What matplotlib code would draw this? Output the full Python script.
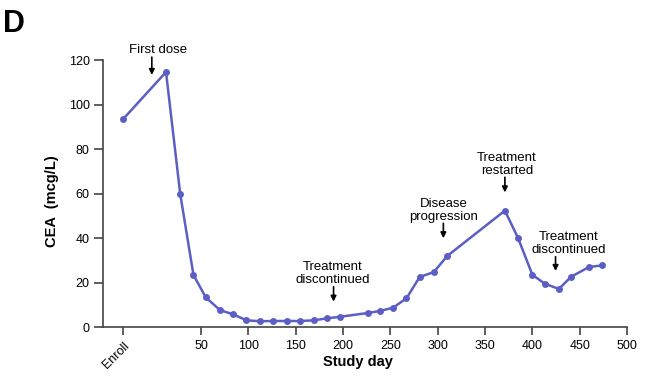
import matplotlib
matplotlib.use("Agg")
import matplotlib.pyplot as plt

plt.rcParams['font.family'] = ['Liberation Sans', 'DejaVu Sans']

# CEA values (Enroll drawn at day -32)
days = [-32, 13, 28, 42, 55, 70, 84, 98, 112, 126, 141, 155, 169, 183, 197,
        226, 239, 253, 267, 281, 296, 310, 371, 385, 400, 413, 428, 441, 460, 474]
cea = [93.6, 114.6, 59.8, 23.4, 13.3, 7.6, 5.7, 3.0, 2.6, 2.7, 2.7, 2.7, 3.0, 3.9, 4.6,
       6.3, 7.2, 8.7, 12.9, 22.5, 24.7, 31.9, 52.3, 39.9, 23.5, 19.5, 17.1, 22.6, 27.0, 27.7]

xticks = [-32, 50, 100, 150, 200, 250, 300, 350, 400, 450, 500]
xlabels = ['Enroll', '50', '100', '150', '200', '250', '300', '350', '400', '450', '500']
yticks = [0, 20, 40, 60, 80, 100, 120]

# annotations: text, text x, arrow x, arrow start y, arrow tip y
notes = [
    ('First dose', 4.5, -2, 121.3, 113.3),
    ('Treatment\ndiscontinued', 189, 190, 18.1, 11.4),
    ('Disease\nprogression', 306, 306, 46.6, 39.9),
    ('Treatment\nrestarted', 373, 371, 67.3, 60.5),
    ('Treatment\ndiscontinued', 438.7, 424.5, 31.6, 25.2),
]

fig = plt.figure(figsize=(6.46, 3.77), dpi=100)
ax = fig.add_axes([0.1594, 0.1326, 0.8112, 0.7082])

ax.plot(days, cea, color='#5b5ec4', lw=1.8, marker='o', markersize=5,
        markeredgewidth=0, clip_on=False, zorder=3)

ax.set_xlim(-53.6, 500)
ax.set_ylim(0, 120)
ax.set_xticks(xticks)
ax.set_xticklabels(xlabels, fontsize=9)
ax.set_yticks(yticks)
ax.set_yticklabels([str(v) for v in yticks], fontsize=9)

lbl = ax.get_xticklabels()[0]
lbl.set_rotation(45)
lbl.set_ha('right')
lbl.set_va('top')
lbl.set_rotation_mode('anchor')

for side in ['top', 'right']:
    ax.spines[side].set_visible(False)
for side in ['left', 'bottom']:
    ax.spines[side].set_color('#444444')
    ax.spines[side].set_linewidth(1.2)
ax.tick_params(axis='both', color='#444444', width=1.2, length=6.5, pad=3)
ax.tick_params(axis='x', length=5.5, pad=4)

ax.set_ylabel('CEA  (mcg/L)', fontsize=10.5, fontweight='bold')
ax.yaxis.set_label_coords(-0.084, 0.47)
ax.set_xlabel('Study day', fontsize=10.5, fontweight='bold')
ax.xaxis.set_label_coords(0.487, -0.105)

for txt, tx, axx, y0, y1 in notes:
    ax.text(tx, y0 + 0.3, txt, ha='center', va='bottom', fontsize=9.5,
            linespacing=1.1, clip_on=False)
    ax.annotate('', xy=(axx, y1), xytext=(axx, y0),
                arrowprops=dict(arrowstyle='-|>', color='black', lw=1.2,
                                mutation_scale=8, shrinkA=0, shrinkB=0),
                annotation_clip=False)

fig.text(0.005, 0.915, 'D', fontsize=22, fontweight='bold')

fig.savefig('out.png', dpi=100)
